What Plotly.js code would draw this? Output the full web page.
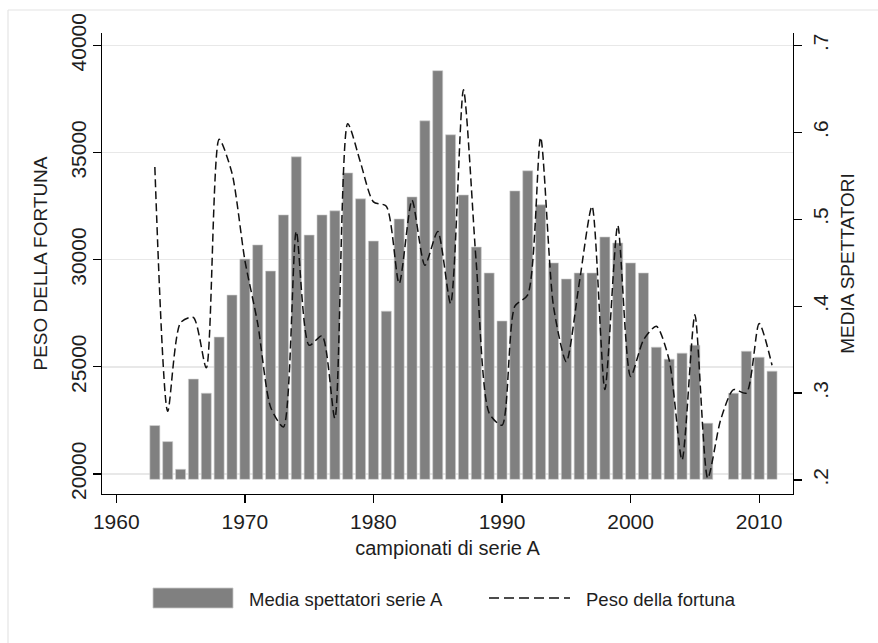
<!DOCTYPE html>
<html>
<head>
<meta charset="utf-8">
<script src="https://cdn.plot.ly/plotly-3.0.1.min.js"></script>
<style>
  html, body { margin: 0; padding: 0; background: #fff; }
  #chart { width: 878px; height: 643px; }
</style>
</head>
<body>
<div id="chart"></div>
<script>
// ---- data ----
const anni = [1963,1964,1965,1966,1967,1968,1969,1970,1971,1972,1973,1974,1975,1976,1977,1978,1979,1980,1981,1982,1983,1984,1985,1986,1987,1988,1989,1990,1991,1992,1993,1994,1995,1996,1997,1998,1999,2000,2001,2002,2003,2004,2005,2006,2007,2008,2009,2010,2011];
const mediaSpettatori = [22260,21510,20220,24430,23770,26390,28350,30030,30690,29470,32090,34800,31150,32090,32280,34050,32840,30870,27600,31900,32930,36480,38820,35830,33020,30590,29380,27140,33210,34150,32560,29850,29100,29380,29380,31060,30780,29850,29380,25920,25360,25640,26010,22370,null,23770,25730,25450,24800];
const pesoFortuna = [0.560,0.279,0.381,0.387,0.329,0.592,0.553,0.453,0.380,0.284,0.261,0.486,0.355,0.366,0.271,0.610,0.565,0.520,0.515,0.426,0.522,0.447,0.486,0.403,0.649,0.449,0.277,0.263,0.400,0.413,0.594,0.400,0.336,0.426,0.515,0.304,0.493,0.319,0.361,0.377,0.338,0.223,0.390,0.202,0.269,0.304,0.300,0.380,0.332];
const xTicks = [1960,1970,1980,1990,2000,2010];
const yLeftTicks = [20000,25000,30000,35000,40000];
const yLeftLabels = ['20000','25000','30000','35000','40000'];
const yRightTicks = [0.2,0.3,0.4,0.5,0.6,0.7];
const yRightLabels = ['.2','.3','.4','.5','.6','.7'];
const legendLabels = ['Media spettatori serie A','Peso della fortuna'];

// ---- layout geometry (pixels) ----
const W = 878, H = 643;
const M = {l: 102, r: 85, t: 33, b: 149};
const PW = W - M.l - M.r, PH = H - M.t - M.b;
const px = X => (X - M.l) / PW;
const py = Y => (H - M.b - Y) / PH;
const BASE = 19750;
const FONT = 'Liberation Sans, Arial, sans-serif';
const TXT = '#1e1e1e';

const bars = {
  type: 'bar', x: anni,
  y: mediaSpettatori.map(v => v == null ? null : v - BASE),
  base: BASE, width: 0.78,
  marker: {color: '#808080', line: {color: '#d0d0d0', width: 0.6}},
  yaxis: 'y', showlegend: false, hoverinfo: 'skip'
};
const line = {
  type: 'scatter', mode: 'lines', x: anni, y: pesoFortuna, yaxis: 'y2',
  line: {color: '#111', width: 1.5, dash: '8px,4px', shape: 'spline', smoothing: 0.7},
  showlegend: false, hoverinfo: 'skip'
};

const shapes = [
  {type: 'line', xref: 'paper', yref: 'paper', x0: px(8), x1: px(W + 5), y0: py(10), y1: py(10), line: {color: '#e4e4e4', width: 1.2}},
  {type: 'line', xref: 'paper', yref: 'paper', x0: px(8), x1: px(8), y0: py(10), y1: py(H + 5), line: {color: '#e4e4e4', width: 1.2}},
  {type: 'rect', xref: 'paper', yref: 'paper', x0: px(153), x1: px(233), y0: py(588), y1: py(608), fillcolor: '#808080', line: {color: '#c8c8c8', width: 0.8}},
  {type: 'line', xref: 'paper', yref: 'paper', x0: px(489), x1: px(570), y0: py(598), y1: py(598), line: {color: '#111', width: 1.5, dash: '10px,5px'}}
];
const annotations = [
  {xref: 'paper', yref: 'paper', x: px(247), y: py(599), xanchor: 'left', yanchor: 'middle', showarrow: false, text: legendLabels[0], font: {family: FONT, size: 18.5, color: TXT}},
  {xref: 'paper', yref: 'paper', x: px(584), y: py(599), xanchor: 'left', yanchor: 'middle', showarrow: false, text: legendLabels[1], font: {family: FONT, size: 18.5, color: TXT}}
];

const axisCommon = {
  showline: true, linecolor: '#000', linewidth: 1.3,
  ticks: 'outside', ticklen: 8, tickwidth: 1.3, tickcolor: '#000',
  zeroline: false, fixedrange: true,
  tickfont: {family: FONT, size: 21, color: TXT}
};

const layout = {
  width: W, height: H, margin: M,
  paper_bgcolor: '#fff', plot_bgcolor: '#fff',
  showlegend: false, bargap: 0,
  xaxis: Object.assign({}, axisCommon, {
    range: [1958.89, 2012.63], tickvals: xTicks, showgrid: false,
    title: {text: 'campionati di serie A', font: {family: FONT, size: 20, color: TXT}, standoff: 9}
  }),
  yaxis: Object.assign({}, axisCommon, {
    range: [19066, 40579], tickvals: yLeftTicks, ticktext: yLeftLabels, tickangle: -90,
    ticklabelstandoff: -2,
    showgrid: true, gridcolor: '#e8e8e8', gridwidth: 1.5,
    title: {text: 'PESO DELLA FORTUNA', font: {family: FONT, size: 19, color: TXT}, standoff: 14}
  }),
  yaxis2: Object.assign({}, axisCommon, {
    overlaying: 'y', side: 'right',
    range: [0.18388, 0.71428], tickvals: yRightTicks, ticktext: yRightLabels, tickangle: -90,
    showgrid: false,
    title: {text: 'MEDIA SPETTATORI', font: {family: FONT, size: 19, color: TXT}, standoff: 10}
  }),
  shapes: shapes, annotations: annotations
};

Plotly.newPlot('chart', [bars, line], layout, {displayModeBar: false, staticPlot: true});
</script>
</body>
</html>
